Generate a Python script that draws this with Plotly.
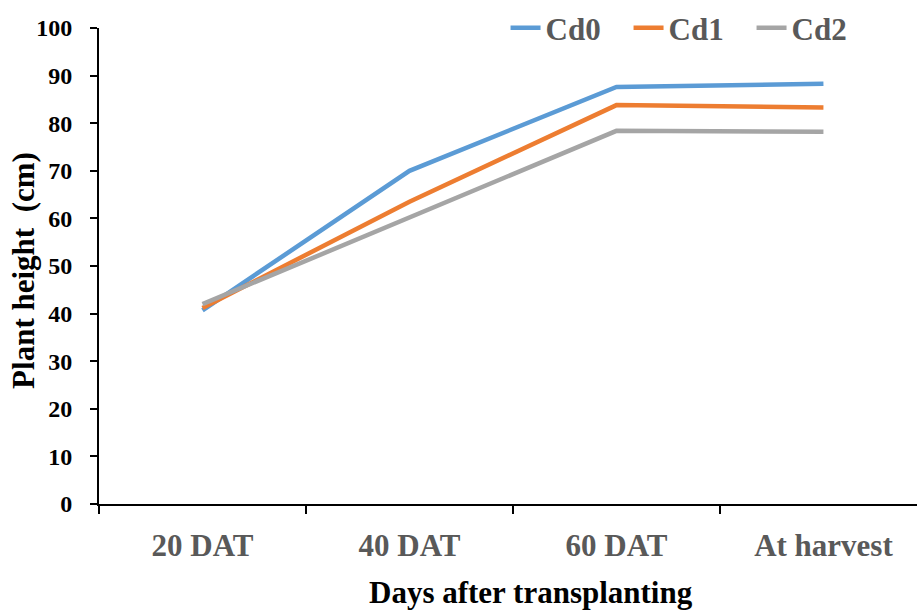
import plotly.graph_objects as go

categories = ["20 DAT", "40 DAT", "60 DAT", "At harvest"]
cd0 = [40.7, 70.0, 87.6, 88.3]
cd1 = [41.2, 63.5, 83.8, 83.3]
cd2 = [42.0, 60.1, 78.4, 78.2]
series_names = ["Cd0", "Cd1", "Cd2"]
colors = ["#5B9BD5", "#ED7D31", "#A5A5A5"]
yticks = [0, 10, 20, 30, 40, 50, 60, 70, 80, 90, 100]
x_title = "Days after transplanting"
y_title = "Plant height  (cm)"

FONT = "Liberation Serif"

fig = go.Figure()
for name, vals, col in zip(series_names, [cd0, cd1, cd2], colors):
    fig.add_trace(go.Scatter(
        x=categories, y=vals, name=name, mode="lines",
        line=dict(color=col, width=4.5),
    ))

fig.update_layout(
    width=917, height=610,
    margin=dict(l=99, r=0, t=28, b=106),
    paper_bgcolor="white", plot_bgcolor="white",
    font=dict(family=FONT),
    showlegend=True,
    legend=dict(
        orientation="h", x=0.497, xanchor="left", y=1.0, yanchor="middle",
        font=dict(family=FONT, size=31, color="#595959", weight="bold"),
        bgcolor="rgba(0,0,0,0)", itemwidth=30, tracegroupgap=0,
        entrywidth=78, entrywidthmode="pixels",
    ),
    annotations=[
        dict(text=x_title, xref="paper", yref="paper", x=0.528, y=-0.185,
             xanchor="center", yanchor="middle", showarrow=False,
             font=dict(family=FONT, size=31, color="black", weight="bold")),
        dict(text=y_title, xref="paper", yref="paper", x=-0.0915, y=0.49,
             xanchor="center", yanchor="middle", showarrow=False, textangle=-90,
             font=dict(family=FONT, size=31, color="black", weight="bold")),
    ],
)

fig.update_xaxes(
    type="category", range=[-0.5, 3.452],
    showline=True, linecolor="black", linewidth=2,
    ticks="outside", tickson="boundaries", ticklen=8, tickwidth=1.5, tickcolor="black",
    tickfont=dict(family=FONT, size=31, color="#595959", weight="bold"),
    ticklabelstandoff=13,
    showgrid=False, zeroline=False,
)

fig.update_yaxes(
    range=[0, 100], tickvals=yticks,
    showline=True, linecolor="black", linewidth=2,
    ticks="outside", ticklen=7, tickwidth=1.5, tickcolor="black",
    tickfont=dict(family=FONT, size=24, color="black", weight="bold"),
    ticklabelstandoff=13,
    showgrid=False, zeroline=False,
)

fig.write_html("out.html")
